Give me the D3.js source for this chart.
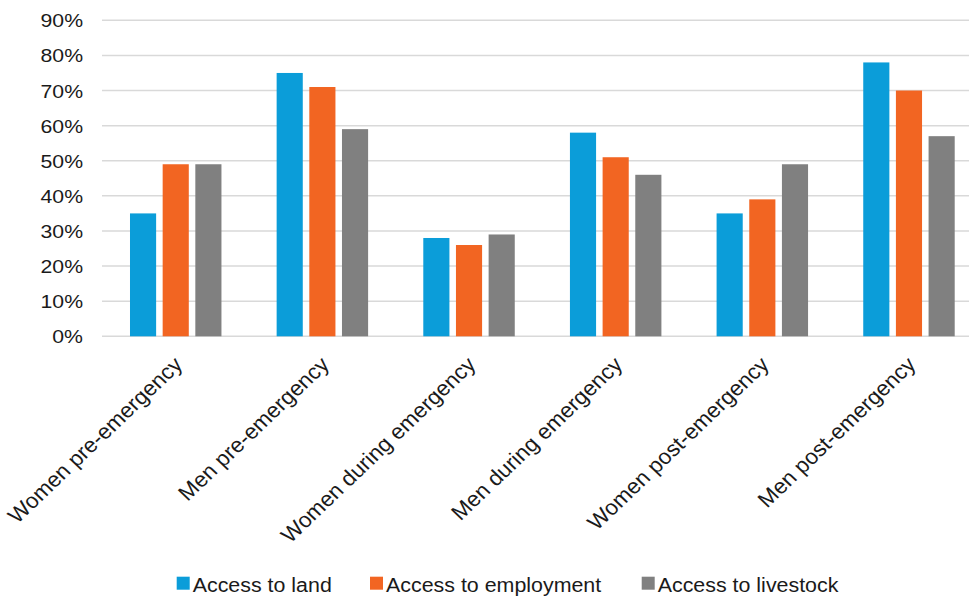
<!DOCTYPE html>
<html>
<head>
<meta charset="utf-8">
<script src="https://cdn.jsdelivr.net/npm/d3@7"></script>
<style>
  body { margin: 0; background: #fff; }
  text { font-family: "Liberation Sans", Arial, sans-serif; fill: #1a1a1a; }
</style>
</head>
<body>
<div id="chart"></div>
<script>
const categories = ["Women pre-emergency", "Men pre-emergency", "Women during emergency",
  "Men during emergency", "Women post-emergency", "Men post-emergency"];
const seriesNames = ["Access to land", "Access to employment", "Access to livestock"];
const land = [35, 75, 28, 58, 35, 78];
const employment = [49, 71, 26, 51, 39, 70];
const livestock = [49, 59, 29, 46, 49, 57];
const yTicks = [0, 10, 20, 30, 40, 50, 60, 70, 80, 90];
const colors = ["#0b9dd9", "#f26522", "#808080"];

const width = 969, height = 598;
const seriesValues = [land, employment, livestock];

const svg = d3.select("#chart").append("svg")
  .attr("width", width)
  .attr("height", height);

const x0 = d3.scaleBand().domain(categories).range([102.4, 982.3]);
const bw = x0.bandwidth();
const x1 = d3.scaleBand().domain(seriesNames)
  .range([bw / 2 - 49, bw / 2 + 49])
  .paddingInner(0.2).paddingOuter(0.1);
const y = d3.scaleLinear().domain([0, 90]).range([336.3, 20.3]);

// gridlines
svg.append("g").selectAll("line")
  .data(yTicks)
  .join("line")
  .attr("x1", 102).attr("x2", 969)
  .attr("y1", d => y(d)).attr("y2", d => y(d))
  .attr("stroke", "#d9d9d9")
  .attr("stroke-width", 1.5);

// y labels (source picture is stretched horizontally)
svg.append("g").selectAll("text")
  .data(yTicks)
  .join("text")
  .attr("transform", d => `translate(83,${y(d) + 7}) scale(1.18,1)`)
  .attr("text-anchor", "end")
  .attr("font-size", 18)
  .text(d => d + "%");

// bars
const groups = svg.append("g").selectAll("g")
  .data(categories)
  .join("g")
  .attr("transform", d => `translate(${x0(d)},0)`);

groups.selectAll("rect")
  .data((d, i) => seriesNames.map((s, j) => ({ s, v: seriesValues[j][i], c: colors[j] })))
  .join("rect")
  .attr("x", d => x1(d.s))
  .attr("width", x1.bandwidth())
  .attr("y", d => y(d.v))
  .attr("height", d => y(0) - y(d.v))
  .attr("fill", d => d.c);

// x labels
svg.append("g").selectAll("text")
  .data(categories)
  .join("text")
  .attr("transform", d => `translate(${x0(d) + bw / 2 + 8},366) scale(1.05,1) rotate(-45)`)
  .attr("text-anchor", "end")
  .attr("font-size", 21.5)
  .text(d => d);

// legend
const legendX = [176.7, 370, 641.7];
const legend = svg.append("g").selectAll("g")
  .data(seriesNames)
  .join("g")
  .attr("transform", (d, i) => `translate(${legendX[i]},0)`);

legend.append("rect")
  .attr("y", 576.7)
  .attr("width", 13)
  .attr("height", 13)
  .attr("fill", (d, i) => colors[i]);

legend.append("text")
  .attr("transform", "translate(16,592) scale(1.07,1)")
  .attr("font-size", 20)
  .text(d => d);
</script>
</body>
</html>
